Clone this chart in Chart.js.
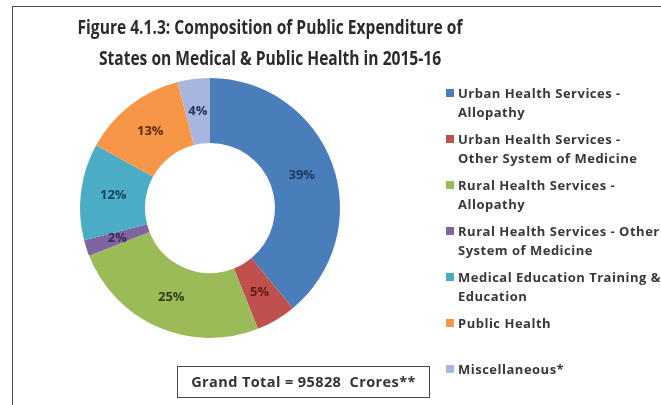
<!DOCTYPE html>
<html>
<head>
<meta charset="utf-8">
<script src="https://cdn.jsdelivr.net/npm/chart.js@4.4.1/dist/chart.umd.min.js"></script>
<style>
  html, body { margin: 0; padding: 0; background: #fff; }
  #wrap { position: relative; width: 661px; height: 405px; overflow: hidden; }
  #frame { position: absolute; left: 12px; top: 6px; width: 700px; height: 430px; border: 1.5px solid #4a4a4a; box-sizing: border-box; }
  #title { position: absolute; left: 20px; width: 500px; top: 12px; text-align: center;
           font-family: "Open Sans", sans-serif; transform: scaleX(0.82); transform-origin: 250px 0;
           font-weight: bold; font-size: 19px; line-height: 31px; color: #2b2b2b; }
  #legend { position: absolute; left: 446px; top: 0; }
  .item { position: absolute; left: 0; width: 240px; font-family: "Open Sans", sans-serif; font-weight: bold;
          font-size: 13px; letter-spacing: 0.5px; line-height: 19px; color: #383838; }
  .item .box { position: absolute; left: 0; top: 5px; width: 8px; height: 8px; }
  .item .txt { position: absolute; left: 12px; top: 0; white-space: nowrap; }
  #total { position: absolute; left: 177px; top: 366px; width: 253px; height: 32px; box-sizing: border-box;
           border: 1.5px solid #444; text-align: center; font-family: "Open Sans", sans-serif; font-weight: bold;
           font-size: 14.5px; letter-spacing: 0.4px; line-height: 29px; color: #333; }
  canvas { position: absolute; left: 0; top: 0; }
</style>
</head>
<body>
<div id="wrap">
  <div id="frame"></div>
  <canvas id="pie" width="661" height="405"></canvas>
  <div id="title">Figure 4.1.3: Composition of Public Expenditure of<br>States on Medical &amp; Public Health in 2015-16</div>
  <div id="legend"></div>
  <div id="total">Grand Total = 95828&nbsp; Crores**</div>
</div>
<script>
// ═══ DATA ═══
const categories = [
  ['Urban Health Services -', 'Allopathy'],
  ['Urban Health Services -', 'Other System of Medicine'],
  ['Rural Health Services -', 'Allopathy'],
  ['Rural Health Services - Other', 'System of Medicine'],
  ['Medical Education Training &', 'Education'],
  ['Public Health'],
  ['Miscellaneous*']
];
const shares = [39, 5, 25, 2, 12, 13, 4];
const sliceColors = ['#4A7EBB', '#C0504D', '#9BBB59', '#8064A2', '#4BACC6', '#F79646', '#A7B6DC'];
const labelColors = ['#1F3864', '#5E1C1A', '#2F3E12', '#3A2858', '#17475A', '#5A2C06', '#25325C'];

// percentage labels inside the ring
const sliceLabels = {
  id: 'sliceLabels',
  afterDatasetsDraw(chart) {
    const ctx = chart.ctx;
    const arcs = chart.getDatasetMeta(0).data;
    ctx.save();
    ctx.font = 'bold 13px "Open Sans", sans-serif';
    ctx.textAlign = 'center';
    ctx.textBaseline = 'middle';
    arcs.forEach((arc, i) => {
      const p = arc.tooltipPosition();
      ctx.fillStyle = labelColors[i];
      ctx.fillText(shares[i] + '%', p.x, p.y);
    });
    ctx.restore();
  }
};

function initPie() {
  new Chart(document.getElementById('pie'), {
    type: 'doughnut',
    data: {
      labels: categories.map(c => c.join(' ')),
      datasets: [{ data: shares, backgroundColor: sliceColors, borderWidth: 0 }]
    },
    options: {
      responsive: false,
      animation: false,
      cutout: '50%',
      layout: { padding: { left: 80, top: 78, right: 321, bottom: 67 } },
      plugins: { legend: { display: false }, tooltip: { enabled: false } }
    },
    plugins: [sliceLabels]
  });

  const legend = document.getElementById('legend');
  categories.forEach((lines, i) => {
    const item = document.createElement('div');
    item.className = 'item';
    item.style.top = (84 + i * 46) + 'px';
    item.innerHTML = '<span class="box" style="background:' + sliceColors[i] + '"></span>' +
      '<span class="txt">' + lines.map(l => l.replace('&', '&amp;')).join('<br>') + '</span>';
    legend.appendChild(item);
  });
}

document.addEventListener('DOMContentLoaded', initPie);
</script>
</body>
</html>
